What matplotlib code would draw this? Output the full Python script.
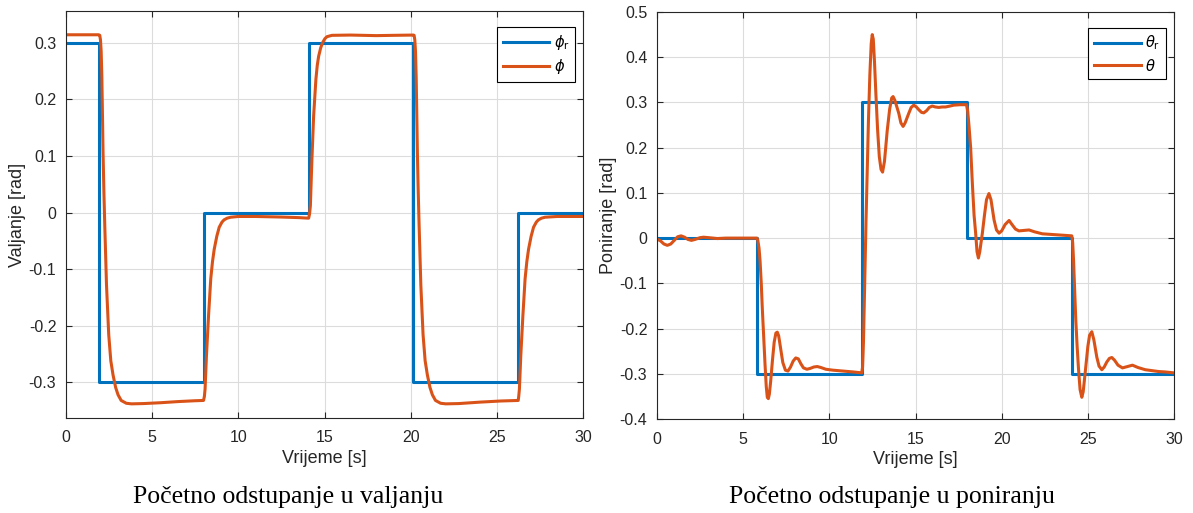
import matplotlib.pyplot as plt
from matplotlib.ticker import FormatStrFormatter

plt.rcParams['font.family'] = ['Liberation Sans', 'DejaVu Sans']
plt.rcParams['axes.unicode_minus'] = False
plt.rcParams['mathtext.fontset'] = 'dejavusans'

BLUE = '#0072BD'
ORANGE = '#D95319'
DARK = '#262626'

# roll reference (step levels) and measured roll angle
phi_ref_t = [0, 1.92, 8.0, 14.08, 20.16, 26.24, 30]
phi_ref_v = [0.3, -0.3, 0.0, 0.3, -0.3, 0.0, 0.0]

phi_t = [0.0, 1.9, 1.96, 2.0, 2.04, 2.08, 2.12, 2.15, 2.2, 2.25, 2.35, 2.48, 2.6,
         2.73, 2.88, 3.02, 3.2, 3.5, 3.8, 4.5, 5.5, 6.5, 7.5, 7.98, 8.03, 8.07,
         8.15, 8.27, 8.4, 8.5, 8.6, 8.75, 8.89, 9.05, 9.17, 9.35, 9.56, 10.0,
         11.0, 12.5, 13.5, 14.08, 14.13, 14.18, 14.27, 14.37, 14.5, 14.58,
         14.66, 14.78, 14.89, 15.02, 15.14, 15.43, 16.5, 18.0, 19.0, 20.16,
         20.2, 20.24, 20.28, 20.32, 20.36, 20.39, 20.44, 20.49, 20.59, 20.72,
         20.84, 20.97, 21.12, 21.26, 21.44, 21.74, 22.04, 22.8, 24.0, 25.2,
         26.24, 26.27, 26.31, 26.39, 26.51, 26.64, 26.74, 26.84, 26.99, 27.13,
         27.29, 27.41, 27.59, 27.8, 28.5, 30.0]
phi_v = [0.314, 0.314, 0.313, 0.305, 0.285, 0.24, 0.165, 0.106, 0.035, -0.023,
         -0.128, -0.216, -0.262, -0.287, -0.309, -0.322, -0.332, -0.337,
         -0.338, -0.3375, -0.336, -0.334, -0.3325, -0.332, -0.325, -0.312,
         -0.253, -0.183, -0.117, -0.087, -0.065, -0.042, -0.026, -0.017,
         -0.013, -0.010, -0.0083, -0.007, -0.007, -0.008, -0.009, -0.010,
         -0.003, 0.012, 0.094, 0.171, 0.235, 0.26, 0.276, 0.291, 0.300, 0.307,
         0.3106, 0.313, 0.3135, 0.3125, 0.313, 0.3135,
         0.313, 0.305, 0.285, 0.24, 0.165, 0.106, 0.035, -0.023, -0.128,
         -0.216, -0.262, -0.287, -0.309, -0.322, -0.332, -0.337, -0.338,
         -0.3375, -0.335, -0.333, -0.332, -0.325, -0.312, -0.253, -0.183,
         -0.117, -0.087, -0.065, -0.042, -0.026, -0.017, -0.013, -0.010,
         -0.0083, -0.007, -0.007]

# pitch reference and measured pitch angle
theta_ref_t = [0, 5.8, 11.88, 17.96, 24.07, 30]
theta_ref_v = [0.0, -0.3, 0.3, 0.0, -0.3, -0.3]

theta_t = [0.0, 0.2, 0.4, 0.6, 0.8, 1.0, 1.2, 1.4, 1.6, 1.8, 2.0, 2.2, 2.5, 2.7,
           3.0, 3.5, 4.0, 5.0, 5.8, 5.85, 5.92, 5.98, 6.05, 6.11, 6.19, 6.27,
           6.34, 6.4, 6.46, 6.52, 6.6, 6.7, 6.8, 6.9, 6.98, 7.06, 7.16, 7.3,
           7.45, 7.6, 7.75, 7.9, 8.05, 8.2, 8.35, 8.5, 8.7, 8.9, 9.1, 9.3, 9.5,
           9.8, 10.2, 10.8, 11.4, 11.88, 11.93, 11.98, 12.03, 12.08, 12.13,
           12.2, 12.27, 12.35, 12.43, 12.49, 12.55, 12.62, 12.7, 12.8, 12.9,
           13.0, 13.09, 13.2, 13.36, 13.5, 13.62, 13.7, 13.8, 13.92, 14.03,
           14.15, 14.28, 14.4, 14.61, 14.75, 14.9, 15.05, 15.19, 15.35, 15.48,
           15.65, 15.8, 15.97, 16.15, 16.35, 16.55, 16.74, 17.0, 17.22, 17.6,
           17.96, 18.03, 18.1, 18.2, 18.3, 18.4, 18.49, 18.57, 18.65, 18.73,
           18.8, 18.88, 19.0, 19.12, 19.26, 19.38, 19.56, 19.7, 19.85, 20.0,
           20.2, 20.43, 20.6, 20.8, 21.0, 21.3, 21.59, 21.9, 22.36, 22.9, 23.33,
           23.7, 24.07, 24.12, 24.17, 24.23, 24.3, 24.38, 24.46, 24.55, 24.65,
           24.73, 24.8, 24.88, 25.0, 25.1, 25.23, 25.35, 25.52, 25.65, 25.81,
           25.95, 26.1, 26.25, 26.39, 26.55, 26.75, 27.01, 27.3, 27.59, 27.9,
           28.33, 28.7, 29.1, 29.5, 30.0]
theta_v = [-0.002, -0.006, -0.013, -0.016, -0.013, -0.005, 0.003, 0.005, 0.002,
           -0.003, -0.005, -0.003, 0.001, 0.002, 0.001, -0.001, 0.0, 0.0, 0.0,
           -0.005, -0.022, -0.05, -0.1, -0.155, -0.22, -0.28, -0.328, -0.352,
           -0.355, -0.345, -0.315, -0.27, -0.23, -0.21, -0.208, -0.216, -0.24,
           -0.275, -0.292, -0.294, -0.285, -0.272, -0.265, -0.267, -0.278,
           -0.287, -0.290, -0.288, -0.285, -0.284, -0.286, -0.290, -0.292,
           -0.294, -0.296, -0.298, -0.285, -0.23, -0.14, -0.05, 0.04, 0.15,
           0.26, 0.36, 0.43, 0.45, 0.44, 0.39, 0.32, 0.24, 0.18, 0.152, 0.146,
           0.17, 0.238, 0.285, 0.31, 0.313, 0.305, 0.29, 0.276, 0.255, 0.247,
           0.255, 0.276, 0.289, 0.294, 0.29, 0.284, 0.278, 0.277, 0.282, 0.289,
           0.292, 0.29, 0.289, 0.29, 0.290, 0.292, 0.294, 0.295, 0.295, 0.28,
           0.25, 0.2, 0.12, 0.05, 0.011, -0.03, -0.044, -0.03, -0.01, 0.011,
           0.05, 0.085, 0.0985, 0.085, 0.04, 0.018, 0.011, 0.016, 0.03, 0.039,
           0.03, 0.02, 0.016, 0.017, 0.018, 0.014, 0.0095, 0.008, 0.007, 0.006,
           0.005, -0.01, -0.048, -0.11, -0.18, -0.24, -0.29, -0.335, -0.352,
           -0.34, -0.315, -0.285, -0.24, -0.215, -0.207, -0.225, -0.263, -0.283,
           -0.291, -0.285, -0.274, -0.266, -0.264, -0.27, -0.281, -0.287,
           -0.284, -0.281, -0.286, -0.291, -0.293, -0.295, -0.296, -0.298]

fig = plt.figure(figsize=(11.93, 5.13), dpi=100)
ax1 = fig.add_axes([66 / 1193, 1 - 418 / 513, 517 / 1193, 407 / 513])
ax2 = fig.add_axes([657 / 1193, 1 - 419 / 513, 517 / 1193, 407 / 513])


def style_axes(ax):
    ax.set_xlim(0, 30)
    ax.set_xticks(range(0, 31, 5))
    ax.grid(True, color='#dcdcdc', linewidth=0.8)
    ax.set_axisbelow(True)
    ax.tick_params(direction='in', top=True, right=True, length=4,
                   width=0.8, colors=DARK, labelsize=11.5)
    ax.tick_params(axis='x', pad=9)
    ax.tick_params(axis='y', pad=7)
    for s in ax.spines.values():
        s.set_color(DARK)
        s.set_linewidth(0.8)
    ax.yaxis.set_major_formatter(FormatStrFormatter('%g'))
    ax.set_xlabel('Vrijeme [s]', fontsize=13, color=DARK, labelpad=3)


ax1.plot(phi_ref_t, phi_ref_v, drawstyle='steps-post', color=BLUE, lw=2.2,
         label=r'$\phi_{\rm r}$')
ax1.plot(phi_t, phi_v, color=ORANGE, lw=2.2, label=r'$\phi$')
style_axes(ax1)
ax1.set_ylim(-0.363, 0.356)
ax1.set_yticks([-0.3, -0.2, -0.1, 0, 0.1, 0.2, 0.3])
ax1.set_ylabel('Valjanje [rad]', fontsize=13, color=DARK, labelpad=2)

ax2.plot(theta_ref_t, theta_ref_v, drawstyle='steps-post', color=BLUE, lw=2.2,
         label=r'$\theta_{\rm r}$')
ax2.plot(theta_t, theta_v, color=ORANGE, lw=2.2, label=r'$\theta$')
style_axes(ax2)
ax2.set_ylim(-0.4, 0.5)
ax2.set_yticks([-0.4, -0.3, -0.2, -0.1, 0, 0.1, 0.2, 0.3, 0.4, 0.5])
ax2.set_ylabel('Poniranje [rad]', fontsize=13, color=DARK, labelpad=2)

for ax in (ax1, ax2):
    leg = ax.legend(loc='upper right', bbox_to_anchor=(0.985, 0.961),
                    borderaxespad=0, fancybox=False, edgecolor='black',
                    framealpha=1, fontsize=10.5, handlelength=3.2,
                    handletextpad=0.3, borderpad=0.4, labelspacing=0.35)
    leg.get_frame().set_linewidth(0.8)

fig.text(288 / 1193, 1 - 497 / 513, 'Početno odstupanje u valjanju',
         family=['Liberation Serif', 'DejaVu Serif'], fontsize=18.5,
         ha='center', va='center', color='black')
fig.text(892 / 1193, 1 - 497 / 513, 'Početno odstupanje u poniranju',
         family=['Liberation Serif', 'DejaVu Serif'], fontsize=18.5,
         ha='center', va='center', color='black')

fig.savefig('out.png', dpi=100)
